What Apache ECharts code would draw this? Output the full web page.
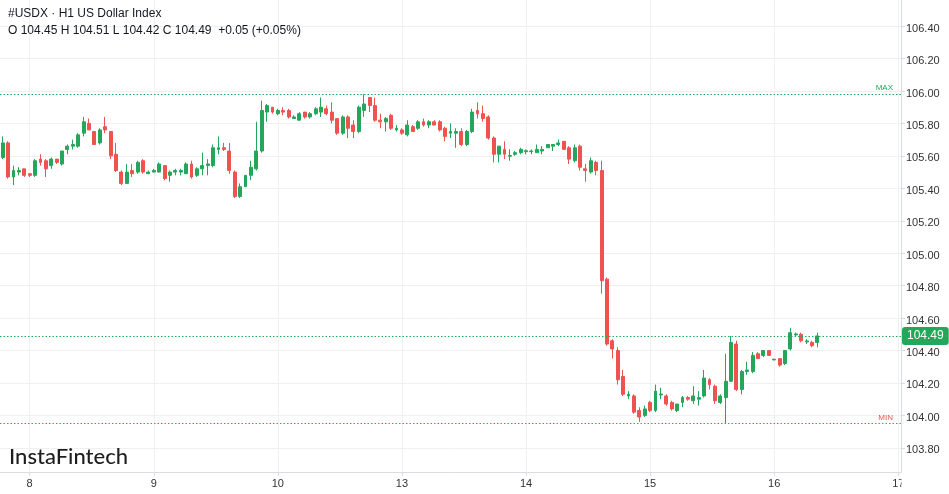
<!DOCTYPE html>
<html><head><meta charset="utf-8">
<script src="https://cdn.jsdelivr.net/npm/echarts@6/dist/echarts.min.js"></script>
<style>html,body{margin:0;padding:0;background:#fff}#c{width:949px;height:494px}</style>
</head><body><div id="c"></div>
<script>
// ---- data ----
const dayLabels = ['7','8','9','10','13','14','15','16','17'];
const firstDayHours = [18,19,20,21,22];
const hoursPerDay = 23;
const title = '#USDX \u00b7 H1 US Dollar Index';
const ohlcText = 'O 104.45 H 104.51 L 104.42 C 104.49  +0.05 (+0.05%)';

const opens = [105.59,105.68,105.47,105.50,105.52,105.49,105.48,105.58,105.57,105.54,
105.58,105.55,105.64,105.66,105.66,105.74,105.80,105.75,105.68,105.78,
105.75,105.61,105.50,105.43,105.51,105.50,105.57,105.49,105.50,105.50,
105.54,105.48,105.50,105.50,105.49,105.55,105.48,105.52,105.54,105.54,
105.64,105.65,105.63,105.50,105.35,105.41,105.48,105.52,105.63,105.87,
105.90,105.86,105.88,105.88,105.83,105.82,105.87,105.84,105.86,105.87,
105.89,105.87,105.83,105.74,105.84,105.79,105.75,105.88,105.96,105.91,
105.82,105.81,105.85,105.76,105.76,105.73,105.78,105.77,105.81,105.79,
105.81,105.81,105.77,105.74,105.74,105.75,105.67,105.75,105.88,105.86,
105.84,105.71,105.61,105.64,105.598,105.61,105.62,105.626,105.626,105.62,
105.63,105.65,105.66,105.67,105.69,105.65,105.57,105.66,105.52,105.50,
105.56,105.51,104.84,104.46,104.40,104.24,104.12,104.12,104.03,104.00,
104.08,104.03,104.126,104.12,104.08,104.03,104.08,104.11,104.09,104.10,
104.12,104.22,104.18,104.08,104.11,104.21,104.44,104.16,104.27,104.27,
104.38,104.37,104.40,104.342,104.35,104.32,104.41,104.496,104.50,104.453,
104.45,104.45];
const closes = [105.68,105.47,105.51,105.51,105.48,105.48,105.57,105.56,105.52,105.58,
105.56,105.63,105.66,105.67,105.73,105.81,105.76,105.67,105.76,105.76,
105.60,105.51,105.43,105.50,105.49,105.56,105.50,105.50,105.51,105.55,
105.46,105.50,105.51,105.51,105.55,105.47,105.52,105.54,105.55,105.65,
105.65,105.64,105.51,105.35,105.41,105.48,105.53,105.63,105.88,105.91,
105.87,105.88,105.87,105.84,105.84,105.86,105.84,105.86,105.89,105.90,
105.86,105.82,105.74,105.84,105.77,105.75,105.90,105.92,105.91,105.82,
105.81,105.83,105.77,105.77,105.74,105.79,105.75,105.81,105.79,105.81,
105.79,105.76,105.72,105.75,105.75,105.67,105.75,105.87,105.86,105.83,
105.71,105.61,105.66,105.61,105.602,105.62,105.64,105.632,105.630,105.64,
105.64,105.67,105.67,105.68,105.64,105.58,105.65,105.53,105.51,105.57,
105.51,104.83,104.44,104.41,104.22,104.13,104.13,104.02,103.99,104.04,
104.03,104.15,104.132,104.07,104.04,104.07,104.11,104.10,104.12,104.11,
104.23,104.19,104.09,104.12,104.21,104.45,104.16,104.27,104.28,104.37,
104.35,104.40,104.37,104.346,104.31,104.40,104.51,104.502,104.46,104.459,
104.43,104.49];
const lows = [105.58,105.46,105.42,105.48,105.47,105.47,105.47,105.54,105.47,105.52,
105.55,105.54,105.61,105.64,105.65,105.72,105.76,105.67,105.67,105.74,
105.58,105.50,105.42,105.43,105.47,105.49,105.49,105.49,105.50,105.50,
105.45,105.44,105.48,105.48,105.49,105.46,105.47,105.48,105.48,105.53,
105.61,105.63,105.49,105.34,105.34,105.41,105.45,105.51,105.62,105.81,
105.86,105.85,105.85,105.83,105.83,105.82,105.83,105.83,105.85,105.84,
105.85,105.80,105.73,105.73,105.71,105.71,105.74,105.84,105.87,105.81,
105.77,105.75,105.76,105.75,105.73,105.72,105.75,105.76,105.78,105.77,
105.79,105.75,105.69,105.71,105.65,105.66,105.66,105.74,105.83,105.81,
105.70,105.56,105.56,105.58,105.57,105.60,105.61,105.61,105.61,105.62,
105.61,105.65,105.63,105.66,105.64,105.55,105.56,105.51,105.44,105.49,
105.48,104.75,104.43,104.35,104.19,104.12,104.10,104.01,103.96,103.99,
104.02,104.02,104.10,104.06,104.03,104.02,104.05,104.09,104.07,104.06,
104.11,104.16,104.07,104.07,103.95,104.21,104.15,104.13,104.25,104.26,
104.35,104.36,104.37,104.34,104.30,104.31,104.40,104.49,104.45,104.44,
104.42,104.42];
const highs = [105.72,105.69,105.54,105.53,105.52,105.49,105.58,105.61,105.58,105.59,
105.58,105.63,105.67,105.70,105.74,105.84,105.83,105.75,105.77,105.84,
105.75,105.68,105.51,105.55,105.55,105.57,105.58,105.51,105.52,105.56,
105.54,105.51,105.52,105.52,105.56,105.57,105.53,105.62,105.58,105.67,
105.72,105.68,105.68,105.51,105.43,105.48,105.57,105.81,105.94,105.92,
105.90,105.89,105.90,105.89,105.85,105.87,105.87,105.87,105.90,105.96,
105.91,105.93,105.83,105.85,105.85,105.82,105.91,105.98,105.96,105.96,
105.86,105.84,105.86,105.79,105.77,105.82,105.79,105.82,105.83,105.82,
105.82,105.82,105.78,105.80,105.77,105.77,105.76,105.89,105.93,105.91,
105.85,105.72,105.66,105.69,105.64,105.63,105.65,105.64,105.64,105.67,
105.66,105.67,105.67,105.70,105.69,105.66,105.67,105.67,105.55,105.59,
105.57,105.57,104.85,104.47,104.42,104.28,104.15,104.13,104.05,104.06,
104.09,104.19,104.17,104.13,104.09,104.07,104.12,104.12,104.18,104.15,
104.28,104.23,104.19,104.13,104.38,104.49,104.46,104.28,104.33,104.39,
104.39,104.40,104.40,104.35,104.35,104.40,104.54,104.51,104.51,104.47,
104.46,104.51];

// ---- categories (hourly bars, 23 per trading day) ----
const pad = h => (h < 10 ? '0' : '') + h;
const categories = [];
firstDayHours.forEach(h => categories.push(dayLabels[0] + ' ' + pad(h)));
dayLabels.slice(1, -1).forEach(d => { for (let h = 0; h < hoursPerDay; h++) categories.push(d + ' ' + pad(h)); });
categories.push(dayLabels[dayLabels.length - 1] + ' 00');
const isDayStart = (idx, v) => String(v).endsWith(' 00');

const UP = '#26a65b', DOWN = '#ef5350';
const candles = opens.map((o, i) => [o, closes[i], lows[i], highs[i]]);
const last = closes[closes.length - 1];
const dayLines = categories.filter(c => c.endsWith(' 00')).map(c => ({ xAxis: c }));

const chart = echarts.init(document.getElementById('c'), null, { renderer: 'canvas' });
chart.setOption({
  animation: false,
  backgroundColor: '#ffffff',
  textStyle: { fontFamily: '"Liberation Sans", Arial, sans-serif' },
  grid: { left: -1.4, right: 48, top: 0, bottom: 22, containLabel: false },
  xAxis: {
    type: 'category', data: categories, boundaryGap: true,
    axisLine: { lineStyle: { color: '#d9dce1' } },
    axisTick: { show: true, alignWithLabel: true, interval: isDayStart, length: 4, lineStyle: { color: '#d9dce1' } },
    axisLabel: { interval: isDayStart, formatter: v => v.split(' ')[0], color: '#333', fontSize: 11, margin: 6 },
    splitLine: { show: false }
  },
  yAxis: {
    type: 'value', position: 'right', scale: true,
    min: 103.651, max: 106.561, splitNumber: 14, minInterval: 0.2, maxInterval: 0.2,
    axisLine: { show: true, lineStyle: { color: '#d9dce1' } },
    axisTick: { show: true, length: 4, lineStyle: { color: '#d9dce1' } },
    axisLabel: { color: '#333', fontSize: 11, margin: 5, formatter: v => '{p|' + v.toFixed(2) + '}', showMinLabel: false, showMaxLabel: false,
                 rich: { p: { color: '#333', fontSize: 11, padding: [5, 0, 0, 0] } } },
    splitLine: { show: true, showMinLine: false, showMaxLine: false, lineStyle: { color: '#eff0f2' } }
  },
  series: [
    {
      type: 'line', data: [], silent: true, z: 1,
      markLine: {
        silent: true, symbol: ['none', 'none'], z: 1, animation: false,
        lineStyle: { color: '#eff0f2', type: 'solid', width: 1 },
        label: { show: false },
        data: dayLines
      }
    },
    {
      type: 'candlestick', data: candles, barWidth: 3.4, z: 3,
      itemStyle: { color: UP, color0: DOWN, borderColor: UP, borderColor0: DOWN, borderWidth: 1 },
      markLine: {
        silent: true, symbol: ['none', 'none'], animation: false, z: 4,
        data: [
          { type: 'max', valueDim: 'highest', lineStyle: { color: UP, type: [1.5, 2], width: 1 },
            label: { show: true, formatter: 'MAX', position: 'insideEndTop', color: UP, fontSize: 8, distance: [8, 2] } },
          { type: 'min', valueDim: 'lowest', lineStyle: { color: DOWN, type: [1.5, 2], width: 1 },
            label: { show: true, formatter: 'MIN', position: 'insideEndTop', color: DOWN, fontSize: 8, distance: [8, 2] } },
          { yAxis: last, lineStyle: { color: UP, type: [1.5, 2], width: 1 },
            label: { show: true, formatter: last.toFixed(2), position: 'end', distance: 1, backgroundColor: UP, color: '#fff',
                     fontSize: 12, padding: [3, 5, 3, 5], borderRadius: 3 } }
        ]
      }
    }
  ],
  graphic: [
    { type: 'rect', z: 100, shape: { x: 901.5, y: 474, width: 48, height: 20 }, style: { fill: '#fff' }, silent: true },
    { type: 'text', z: 100, style: { x: 8, y: 14, text: title, font: '12px "Liberation Sans", Arial, sans-serif', fill: '#131722', verticalAlign: 'middle' } },
    { type: 'text', z: 100, style: { x: 8, y: 31, text: ohlcText, font: '12px "Liberation Sans", Arial, sans-serif', fill: '#131722', verticalAlign: 'middle' } },
    { type: 'text', z: 100, style: { x: 9, y: 457, text: 'InstaFintech', font: '500 22px Lato, sans-serif', fill: '#1e1e1e', verticalAlign: 'middle' } }
  ]
});
</script>
</body></html>
